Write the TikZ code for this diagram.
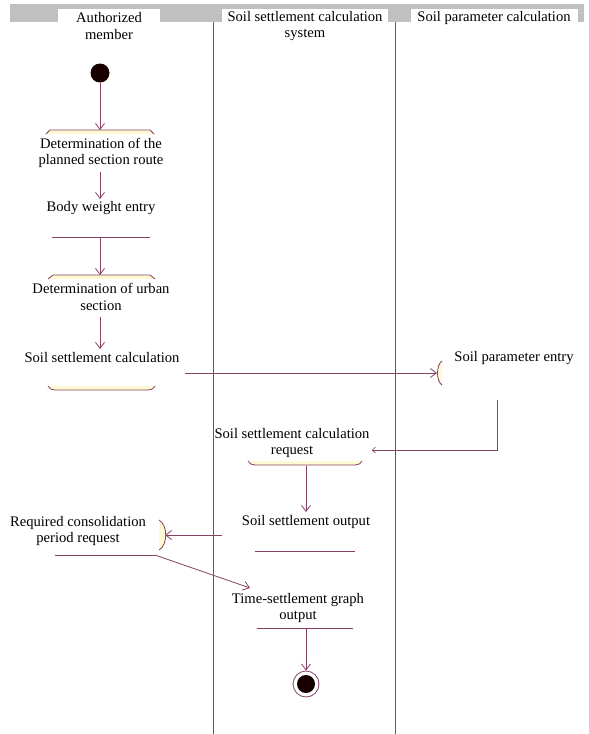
\documentclass[tikz,border=0pt]{standalone}
\usepackage{fontspec}
\setmainfont{Liberation Serif}
\usetikzlibrary{arrows.meta}
\definecolor{ln}{RGB}{135,65,100}
\definecolor{hdr}{RGB}{192,192,192}
\definecolor{yel}{RGB}{255,249,212}
\tikzset{
  txt/.style={inner sep=0pt, align=center, font=\fontsize{14.6}{16.5}\selectfont},
  lane/.style={draw=ln, line width=0.9pt},
  conn/.style={draw=ln, line width=0.8pt, -{Straight Barb[length=6pt,width=9pt]}},
  plain/.style={draw=ln, line width=0.8pt},
  yfill/.style={fill=yel},
}
\begin{document}
\begin{tikzpicture}[x=1pt,y=-1pt]
\useasboundingbox (0,0) rectangle (589,734);
\fill[white] (0,0) rectangle (589,734);
% header
\fill[hdr] (10,4) rectangle (584,22);
\fill[white] (58,9) rectangle (160,22);
\fill[white] (222,9) rectangle (388,22);
\fill[white] (411,9) rectangle (578,22);
\node[txt] (hA) at (109,26) {Authorized\\member};
\node[txt] (hB) at (305,26) {Soil settlement calculation\\system};
\node[txt] (hC) at (494,18) {Soil parameter calculation};
% lanes
\coordinate (l1t) at (213,22); \coordinate (l1b) at (213,734);
\coordinate (l2t) at (395,22); \coordinate (l2b) at (395,734);
\draw[lane] (l1t) -- (l1b);
\draw[lane] (l2t) -- (l2b);
% start
\node[circle, fill=black!90!red, minimum size=19pt, inner sep=0pt] (start) at (100,73) {};
% activity 1 top edge
\fill[yfill] (46,134) -- (50,130) -- (150,130) -- (154,134) -- cycle;
\draw[plain] (46,134) -- (50,130) -- (150,130) -- (154,134);
\coordinate (a1t) at (100,130);
\node[txt] (a1) at (101,153) {Determination of the\\planned section route};
\coordinate (a1b) at (100,172);
\coordinate (a2t) at (100,199);
\node[txt] (a2) at (101,208) {Body weight entry};
\draw[plain] (52,237) -- (150,237);
\coordinate (a2b) at (100,237);
% activity 3 top edge
\fill[yfill] (48,279) -- (53,275) -- (150,275) -- (155,279) -- cycle;
\draw[plain] (48,279) -- (53,275) -- (150,275) -- (155,279);
\coordinate (a3t) at (100,275);
\node[txt] (a3) at (101,297) {Determination of urban\\section};
\coordinate (a3b) at (100,317);
\coordinate (a4t) at (100,349);
\node[txt] (a4) at (102,358) {Soil settlement calculation};
\fill[yfill] (48,386) .. controls (50,389) .. (55,390) -- (148,390) .. controls (153,389) .. (155,386) -- cycle;
\draw[plain] (48,386) .. controls (50,389) .. (55,390) -- (148,390) .. controls (153,389) .. (155,386);
\coordinate (a4r) at (185,373);
% soil parameter entry
\fill[yfill] (442,361) .. controls (436,365) and (436,381) .. (442,385) -- cycle;
\draw[plain] (442,361) .. controls (436,365) and (436,381) .. (442,385);
\coordinate (a5l) at (437,373);
\node[txt] (a5) at (514,358) {Soil parameter entry};
\coordinate (a5b) at (497,400);
\coordinate (a5c) at (497,450);
% request
\node[txt] (a6) at (292,443) {Soil settlement calculation\\request};
\coordinate (a6r) at (372,450);
\fill[yfill] (248,461) .. controls (250,464) .. (255,465) -- (355,465) .. controls (360,464) .. (362,461) -- cycle;
\draw[plain] (248,461) .. controls (250,464) .. (255,465) -- (355,465) .. controls (360,464) .. (362,461);
\coordinate (a6b) at (306,466);
% output
\coordinate (a7t) at (306,512);
\node[txt] (a7) at (306,522) {Soil settlement output};
\draw[plain] (255,551) -- (355,551);
\coordinate (a7l) at (222,535);
\coordinate (a7b) at (306,551);
% consolidation
\node[txt] (a8) at (78,531) {Required consolidation\\period request};
\fill[yfill] (159,520) .. controls (168,525) and (168,545) .. (159,550) -- cycle;
\draw[plain] (159,520) .. controls (168,525) and (168,545) .. (159,550);
\coordinate (a8r) at (165,535);
\draw[plain] (55,555) -- (155,555);
\coordinate (a8b) at (155,555);
% time-settlement
\coordinate (a9t) at (250,588);
\node[txt] (a9) at (298,608) {Time-settlement graph\\output};
\draw[plain] (257,628) -- (353,628);
\coordinate (a9b) at (306,628);
% end
\node[circle, draw=ln, line width=0.8pt, minimum size=26pt, inner sep=0pt] (endo) at (306,684) {};
\node[circle, fill=black!90!red, minimum size=18pt, inner sep=0pt] (endi) at (306,684) {};
% connectors
\draw[conn] (start) -- (a1t);
\draw[conn] (a1b) -- (a2t);
\draw[conn] (a2b) -- (a3t);
\draw[conn] (a3b) -- (a4t);
\draw[conn] (a4r) -- (a5l);
\draw[plain] (a5b) -- (a5c) -- (a6r);
\draw[draw=ln, line width=0.6pt, -{Straight Barb[length=3pt,width=6pt]}] (378,450) -- (a6r);
\draw[conn] (a6b) -- (a7t);
\draw[conn] (a7l) -- (a8r);
\draw[conn] (a8b) -- (a9t);
\draw[conn] (a9b) -- (endo);
\end{tikzpicture}
\end{document}
